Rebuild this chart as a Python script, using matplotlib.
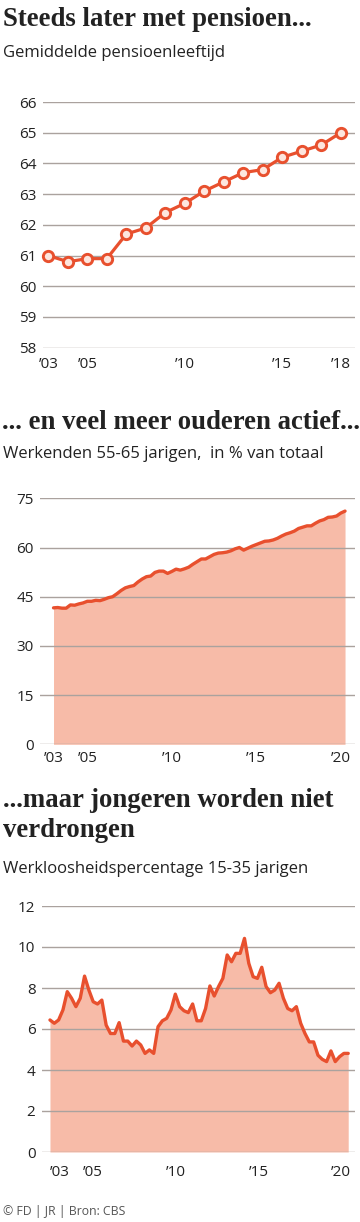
import numpy as np
import matplotlib
matplotlib.use("Agg")
import matplotlib.pyplot as plt

# ---------------- data ----------------
years_pension = list(range(2003, 2019))
pension_age = [61.0, 60.8, 60.9, 60.9, 61.7, 61.9, 62.4, 62.7,
               63.1, 63.4, 63.7, 63.8, 64.2, 64.4, 64.6, 65.0]

older_workers = [41.6, 41.7, 41.5, 41.5, 42.5, 42.4, 42.8, 43.1, 43.6, 43.6,
                 43.9, 43.8, 44.2, 44.7, 45.0, 45.9, 46.9, 47.7, 48.1, 48.4,
                 49.5, 50.4, 51.1, 51.3, 52.4, 52.8, 52.8, 52.1, 52.7, 53.4,
                 53.1, 53.5, 54.0, 54.9, 55.7, 56.5, 56.5, 57.2, 57.9, 58.3,
                 58.4, 58.6, 59.0, 59.6, 60.0, 59.2, 59.8, 60.4, 60.9, 61.4,
                 61.9, 62.0, 62.3, 62.8, 63.5, 64.1, 64.5, 65.0, 65.8, 66.2,
                 66.6, 66.6, 67.4, 68.1, 68.5, 69.2, 69.3, 69.6, 70.5, 71.1]
older_start = 2003.0  # first quarter

youth_unemp = [6.44, 6.28, 6.44, 6.93, 7.82, 7.50, 7.09, 7.50, 8.58, 7.90,
               7.33, 7.22, 7.41, 6.19, 5.78, 5.78, 6.31, 5.41, 5.41, 5.17,
               5.41, 5.22, 4.81, 4.98, 4.81, 6.11, 6.40, 6.52, 6.93, 7.70,
               7.09, 6.89, 6.80, 7.22, 6.40, 6.40, 7.00, 8.10, 7.61, 8.07,
               8.47, 9.61, 9.28, 9.69, 9.69, 10.42, 9.20, 8.55, 8.47, 9.01,
               8.07, 7.77, 7.90, 8.23, 7.50, 7.00, 6.89, 7.09, 6.28, 5.78,
               5.37, 5.37, 4.72, 4.52, 4.41, 4.93, 4.41, 4.65, 4.81, 4.81]
youth_start, youth_end = 2002.4, 2020.43

xtick_years = [2003, 2005, 2010, 2015, 2020]
xtick_labels = ["\u201903", "\u201905", "\u201910", "\u201915", "\u201920"]
xtick_years1 = [2003, 2005, 2010, 2015, 2018]
xtick_labels1 = ["\u201903", "\u201905", "\u201910", "\u201915", "\u201918"]

titles = ["Steeds later met pensioen...",
          "... en veel meer ouderen actief...",
          "...maar jongeren worden niet\nverdrongen"]
subtitles = ["Gemiddelde pensioenleeftijd",
             "Werkenden 55-65 jarigen,  in % van totaal",
             "Werkloosheidspercentage 15-35 jarigen"]
footer = "\u00a9 FD | JR | Bron: CBS"

# ---------------- style ----------------
RED = "#e8502e"
FILL = "#f7bba8"
GRID = "#aaa29e"
TXT = "#222222"
SANS = ["Open Sans", "DejaVu Sans"]
SERIF = ["Liberation Serif", "DejaVu Serif"]

W, H = 360, 1222
fig = plt.figure(figsize=(W / 100, H / 100), dpi=100)
fig.patch.set_facecolor("white")


def ax_at(l, t, r, b):
    return fig.add_axes([l / W, 1 - b / H, (r - l) / W, (b - t) / H])


def style(ax, yticks, xticks, xlabels, xpad):
    ax.set_yticks(yticks)
    ax.set_xticks(xticks)
    ax.set_xticklabels(xlabels)
    for s in ax.spines.values():
        s.set_visible(False)
    ax.tick_params(length=0)
    ax.tick_params(axis="y", pad=4.5, labelsize=11, labelcolor=TXT)
    ax.tick_params(axis="x", pad=xpad, labelsize=11, labelcolor=TXT)
    for lab in ax.get_xticklabels() + ax.get_yticklabels():
        lab.set_family(SANS)
    ax.yaxis.grid(True, color=GRID, lw=1.0)
    ax.xaxis.grid(False)
    ax.set_axisbelow(False)
    ax.patch.set_alpha(0)


def px(x, y, s, **kw):
    fig.text(x / W, 1 - y / H, s, **kw)


# ---------------- chart 1 ----------------
ax1 = ax_at(42.7, 102, 355, 347.7)
ax1.plot(years_pension, pension_age, color=RED, lw=2.3, marker="o", ms=7.4,
         mfc="#fde6de", mec=RED, mew=2.1, zorder=4, clip_on=False)
ax1.set_xlim(2002.71, 2018.73)
ax1.set_ylim(58, 66)
style(ax1, range(58, 67), xtick_years1, xtick_labels1, 6.5)

# ---------------- chart 2 ----------------
ax2 = ax_at(40, 498.3, 355, 744.3)
x2 = older_start + np.arange(len(older_workers)) / 4
ax2.fill_between(x2, 0, older_workers, color=FILL, lw=0, zorder=1)
ax2.plot(x2, older_workers, color=RED, lw=2.4, zorder=4, solid_capstyle="round")
ax2.set_xlim(2002.2, 2020.84)
ax2.set_ylim(0, 75)
style(ax2, range(0, 76, 15), xtick_years, xtick_labels, 5)

# ---------------- chart 3 ----------------
ax3 = ax_at(41.7, 906, 355, 1152)
x3 = np.linspace(youth_start, youth_end, len(youth_unemp))
ax3.fill_between(x3, 0, youth_unemp, color=FILL, lw=0, zorder=1)
ax3.plot(x3, youth_unemp, color=RED, lw=2.4, zorder=4, solid_capstyle="round")
ax3.set_xlim(2001.9, 2020.84)
ax3.set_ylim(0, 12)
style(ax3, range(0, 13, 2), xtick_years, xtick_labels, 9)

# ---------------- texts ----------------
TS = 19.3
SS = 12
px(3, 26, titles[0], family=SERIF, weight="bold", fontsize=TS, color=TXT, va="baseline")
px(3, 56.7, subtitles[0], family=SANS, fontsize=SS, color=TXT, va="baseline")
px(2, 429.3, titles[1], family=SERIF, weight="bold", fontsize=TS, color=TXT, va="baseline")
px(3, 457.7, subtitles[1], family=SANS, fontsize=SS, color=TXT, va="baseline")
t1, t2 = titles[2].split("\n")
px(3, 806.7, t1, family=SERIF, weight="bold", fontsize=TS, color=TXT, va="baseline")
px(3, 836.7, t2, family=SERIF, weight="bold", fontsize=TS, color=TXT, va="baseline")
px(3, 872.7, subtitles[2], family=SANS, fontsize=SS, color=TXT, va="baseline")
px(3, 1215, footer, family=SANS, fontsize=8.8, color="#555555", va="baseline")

fig.savefig("out.png", dpi=100)
